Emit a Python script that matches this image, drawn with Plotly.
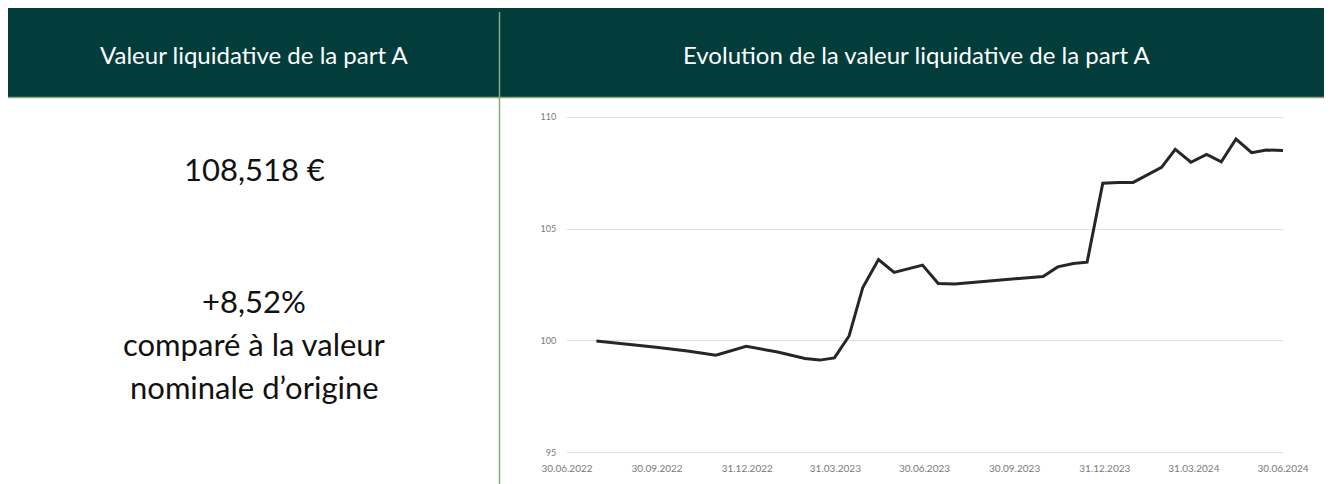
import plotly.graph_objects as go

# NAV of part A
dates = [
    '2022-07-30', '2022-08-31', '2022-09-29', '2022-10-31', '2022-11-29',
    '2022-12-30', '2023-01-31', '2023-02-28', '2023-03-15', '2023-03-30',
    '2023-04-14', '2023-04-28', '2023-05-14', '2023-05-30', '2023-06-14',
    '2023-06-28', '2023-07-14', '2023-07-31', '2023-10-29', '2023-11-13',
    '2023-11-29', '2023-12-13', '2023-12-29', '2024-01-14', '2024-01-29',
    '2024-02-13', '2024-02-27', '2024-03-12', '2024-03-28', '2024-04-13',
    '2024-04-28', '2024-05-13', '2024-05-29', '2024-06-13', '2024-06-30',
]
nav = [
    100.00, 99.86, 99.72, 99.55, 99.36,
    99.76, 99.50, 99.21, 99.14, 99.24,
    100.22, 102.39, 103.64, 103.06, 103.22,
    103.39, 102.57, 102.55, 102.88, 103.31,
    103.46, 103.52, 107.05, 107.09, 107.09,
    107.45, 107.76, 108.57, 107.99, 108.34,
    108.01, 109.03, 108.42, 108.54, 108.518,
]

tick_dates = ['2022-06-30', '2022-09-30', '2022-12-31', '2023-03-31', '2023-06-30',
              '2023-09-30', '2023-12-31', '2024-03-31', '2024-06-30']
tick_labels = ['30.06.2022', '30.09.2022', '31.12.2022', '31.03.2023', '30.06.2023',
               '30.09.2023', '31.12.2023', '31.03.2024', '30.06.2024']
y_ticks = [95, 100, 105, 110]

header_left = 'Valeur liquidative de la part A'
header_right = 'Evolution de la valeur liquidative de la part A'
nav_text = '108,518 €'
perf_lines = ['+8,52%', 'comparé à la valeur', 'nominale d’origine']

W, H = 1332, 484
OFF = 8  # page body margin
DARK = '#023c3b'
SAGE = '#8aa97f'
FONT = 'Lato'


def px(x):
    return (x - OFF) / W


def py(y):
    return 1 - (y - OFF) / H


fig = go.Figure()

fig.add_trace(
    go.Scatter(
        x=dates,
        y=nav,
        mode='lines',
        line=dict(color='#262626', width=3),
        showlegend=False,
        hoverinfo='skip'
    )
)

shapes = [
    # header band
    dict(type='rect', xref='paper', yref='paper', x0=px(8), x1=1, y0=py(97), y1=py(8),
         fillcolor=DARK, line_width=0, layer='below'),
    # rule under header
    dict(type='line', xref='paper', yref='paper', x0=px(8), x1=1, y0=py(97.5), y1=py(97.5),
         line=dict(color=SAGE, width=1.5)),
    # vertical divider
    dict(type='line', xref='paper', yref='paper', x0=px(499.5), x1=px(499.5), y0=0, y1=py(12),
         line=dict(color=SAGE, width=1.5)),
]

annotations = [
    dict(text=header_left, x=px(254), y=py(55), font=dict(size=24, color='white', family=FONT)),
    dict(text=header_right, x=px(916), y=py(55), font=dict(size=24, color='white', family=FONT)),
    dict(text=nav_text, x=px(254), y=py(169), font=dict(size=31, color='#111111', family=FONT)),
]
for i, line in enumerate(perf_lines):
    annotations.append(dict(text=line, x=px(254), y=py(301 + 43 * i),
                            font=dict(size=31, color='#111111', family=FONT)))
for a in annotations:
    a.update(xref='paper', yref='paper', showarrow=False, xanchor='center', yanchor='middle')

fig.update_layout(
    width=W,
    height=H,
    margin=dict(l=0, r=0, t=0, b=0, autoexpand=False),
    paper_bgcolor='white',
    plot_bgcolor='white',
    font=dict(family=FONT),
    shapes=shapes,
    annotations=annotations,
    xaxis=dict(
        domain=[px(567), px(1283)],
        type='date',
        range=['2022-06-30', '2024-06-30'],
        tickvals=tick_dates,
        ticktext=tick_labels,
        showgrid=False,
        zeroline=False,
        showline=False,
        ticks='outside',
        ticklen=4,
        tickcolor='rgba(0,0,0,0)',
        tickfont=dict(size=10, color='#7a7a7a', family=FONT),
        fixedrange=True
    ),
    yaxis=dict(
        # 95 sits at y=452.7 and 110 at y=117.3; pad the range so the edge gridlines show
        domain=[py(454.9), py(115.1)],
        range=[94.9, 110.1],
        tickvals=y_ticks,
        showgrid=True,
        gridcolor='#dedede',
        gridwidth=1,
        zeroline=False,
        showline=False,
        ticks='outside',
        ticklen=8,
        tickcolor='rgba(0,0,0,0)',
        tickfont=dict(size=9, color='#7a7a7a', family=FONT),
        fixedrange=True
    ),
)

fig.write_html("out.html")
